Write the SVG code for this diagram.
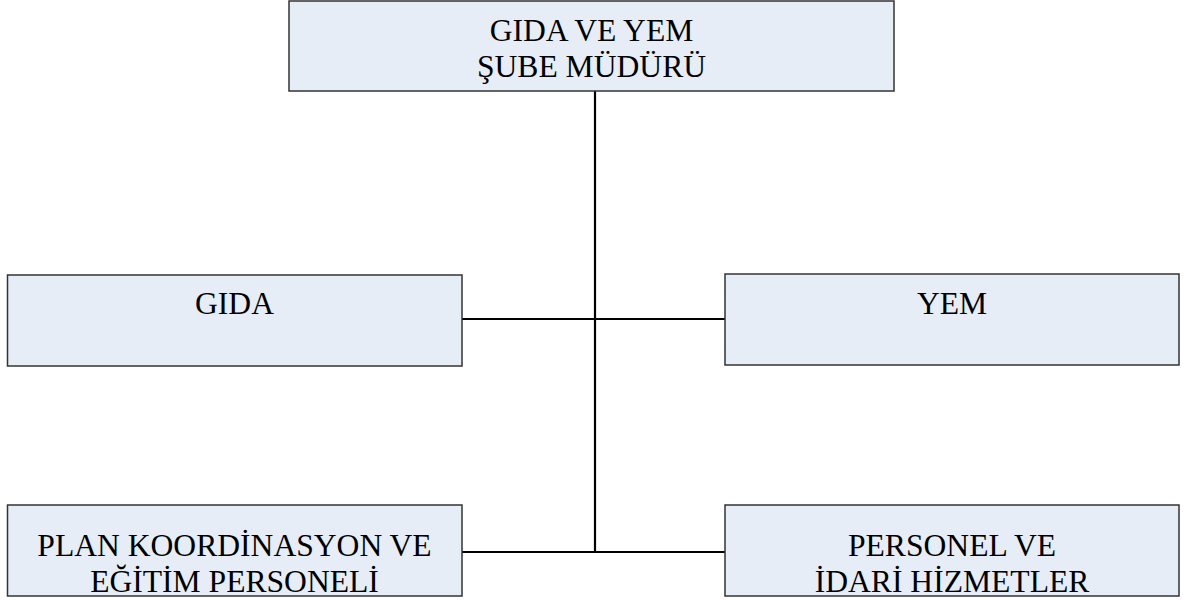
<svg xmlns="http://www.w3.org/2000/svg" width="1183" height="600" viewBox="0 0 1183 600">
<style>
.box{fill:#E6EDF7;stroke:#333;stroke-width:1.5}
.lbl{font-family:"Liberation Serif","Times New Roman",serif;font-size:31.6px;fill:#000;text-anchor:middle}
.conn{stroke:#000;stroke-width:2.2;fill:none}
</style>
<rect width="1183" height="600" fill="#fff"/>
<g id="connectors">
<line class="conn" x1="595" y1="91" x2="595" y2="552"/>
<line class="conn" x1="462" y1="319" x2="725" y2="319"/>
<line class="conn" x1="462" y1="552" x2="725" y2="552"/>
</g>
<g id="node-top">
<rect class="box" x="289" y="1" width="605" height="90"/>
<text class="lbl" x="591.5" y="41">GIDA VE YEM</text>
<text class="lbl" x="591.5" y="77">ŞUBE MÜDÜRÜ</text>
</g>
<g id="node-gida">
<rect class="box" x="7.5" y="275" width="454.5" height="91"/>
<text class="lbl" x="234.5" y="314">GIDA</text>
</g>
<g id="node-yem">
<rect class="box" x="725" y="274" width="454" height="91"/>
<text class="lbl" x="952" y="314">YEM</text>
</g>
<g id="node-plan">
<rect class="box" x="7.5" y="505" width="454.5" height="91"/>
<text class="lbl" x="234.5" y="556">PLAN KOORDİNASYON VE</text>
<text class="lbl" x="234.5" y="592">EĞİTİM PERSONELİ</text>
</g>
<g id="node-personel">
<rect class="box" x="725" y="505" width="454" height="91"/>
<text class="lbl" x="952" y="556">PERSONEL VE</text>
<text class="lbl" x="952" y="592">İDARİ HİZMETLER</text>
</g>
</svg>
